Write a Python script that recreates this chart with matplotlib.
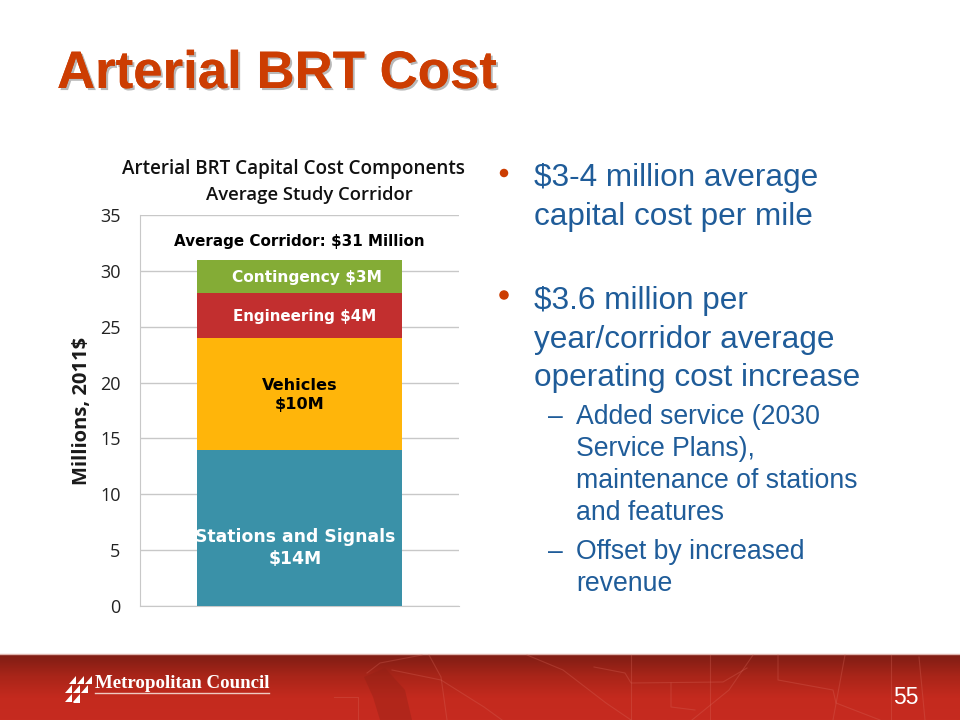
import numpy as np
import matplotlib
matplotlib.use("Agg")
import matplotlib.pyplot as plt
import matplotlib.patheffects as pe
from matplotlib.patches import Polygon
from matplotlib.colors import LinearSegmentedColormap

# ---- data ----
components = ["Stations and Signals", "Vehicles", "Engineering", "Contingency"]
values = [14, 10, 4, 3]
segment_labels = ["Stations and Signals\n$14M", "Vehicles\n$10M", "Engineering $4M", "Contingency $3M"]
yticks = [0, 5, 10, 15, 20, 25, 30, 35]

# ---- styles ----
colors = ["#3A91A8", "#FFB50A", "#C22F2F", "#84AC36"]
label_colors = ["white", "black", "white", "white"]
label_sizes = [12.4, 11.6, 10.9, 11.1]
label_x = [-0.012, 0.0, 0.015, 0.022]

W, H = 960, 720
fig = plt.figure(figsize=(9.6, 7.2), dpi=100, facecolor="white")

bg = fig.add_axes([0, 0, 1, 1], zorder=0)
bg.set_xlim(0, W); bg.set_ylim(H, 0); bg.axis("off")

# footer band
cmap = LinearSegmentedColormap.from_list("band", ["#7E1D14", "#A92519", "#C42A1E", "#C62B20"])
grad = np.linspace(0, 1, 64).reshape(-1, 1)
bg.imshow(grad, extent=[0, W, 720, 654], cmap=cmap, aspect="auto", zorder=1)
bg.set_xlim(0, W); bg.set_ylim(H, 0)
bg.plot([0, W], [654, 654], color="#E0B5AE", lw=1, zorder=2)
texture = [
    ([367, 380, 422], [673, 663, 655]),
    ([527, 563, 606, 631], [655, 670, 703, 720]),
    ([429, 441, 447], [655, 677, 720]),
    ([334, 358, 358], [697, 697, 720]),
    ([392, 441, 484, 502], [670, 680, 707, 720]),
    ([594, 625, 631, 723, 747], [667, 673, 683, 682, 668]),
    ([631, 631], [655, 720]), ([710, 710], [655, 720]),
    ([671, 671, 695], [683, 707, 710]),
    ([778, 778, 833, 836, 880], [655, 680, 690, 703, 720]),
    ([845, 833], [655, 720]), ([891, 891], [655, 720]), ([919, 925], [657, 720]),
    ([753, 729, 692], [655, 690, 720]),
]
for xs, ys in texture:
    bg.plot(xs, ys, color="#D9695C", lw=0.8, alpha=0.3, zorder=2)
bg.add_patch(Polygon([[364, 677], [373, 697], [380, 720], [412, 720], [405, 690], [385, 668]],
                     closed=True, fc="#8E2015", ec="none", alpha=0.35, zorder=2))

# logo
for (tx, ty) in [(65, 685), (73, 685), (81, 685), (69, 676), (77, 676), (85, 676), (65, 694), (73, 694)]:
    bg.add_patch(Polygon([[tx, ty + 8], [tx + 7, ty + 8], [tx + 7, ty]], closed=True, fc="white", ec="none", zorder=3))
bg.add_patch(Polygon([[73, 703], [80, 703], [80, 695]], closed=True, fc="white", ec="none", zorder=3))
bg.text(95, 683, "Metropolitan Council", family="Liberation Serif", weight="bold",
        fontsize=13.6, color="white", va="center", ha="left", zorder=3)
bg.plot([95, 269], [693, 693], color="#EFC9C2", lw=1, zorder=3)
bg.text(906, 698, "55", family="Liberation Sans", fontsize=16.5, color="white", ha="center", va="center", zorder=3)

# title with soft shadow
bg.text(57, 74, "Arterial BRT Cost", family="Liberation Sans", weight="bold", fontsize=38,
        color="#CC3D02", va="center", ha="left", zorder=3,
        path_effects=[pe.withSimplePatchShadow(offset=(1.5, -1.5), shadow_rgbFace="#8A8A8A", alpha=0.6), pe.Normal()])

# chart axes
ax = fig.add_axes([140 / W, 1 - 606 / H, (459 - 140) / W, (606 - 215) / H], zorder=2)
ax.patch.set_alpha(0)
ax.set_xlim(-0.5, 0.5)
ax.set_ylim(0, 35)
bar_w = (402 - 197) / (459 - 140)
bottom = 0
for v, c, lab, lc, fs, lx in zip(values, colors, segment_labels, label_colors, label_sizes, label_x):
    ax.bar(0, v, width=bar_w, bottom=bottom, color=c, zorder=3)
    y = bottom + v / 2 - 0.08
    if lab.startswith("Stations"):
        y = 5.2
    if lab.startswith("Vehicles"):
        y = 18.9
    ax.text(lx, y, lab, ha="center", va="center", color=lc, weight="bold",
            family="DejaVu Sans", fontsize=fs, linespacing=1.3, zorder=4)
    bottom += v
ax.text(0.0, 32.6, "Average Corridor: $31 Million", ha="center", va="center", weight="bold",
        family="DejaVu Sans", fontsize=10.9, color="black", zorder=4)
ax.set_yticks(yticks)
ax.set_xticks([])
ax.grid(axis="y", color="#C8C8C8", lw=1, zorder=1)
for s in ["top", "right"]:
    ax.spines[s].set_visible(False)
for s in ["left", "bottom"]:
    ax.spines[s].set_color("#C8C8C8")
ax.tick_params(axis="y", length=0, pad=14, labelsize=13, labelcolor="#222222")
for t in ax.get_yticklabels():
    t.set_family("Open Sans")
ax.set_ylabel("Millions, 2011$", family="Open Sans", weight="bold", fontsize=14.5, labelpad=6, color="#1a1a1a")

bg.text(293.5, 169, "Arterial BRT Capital Cost Components", family="Open Sans", weight="semibold",
        fontsize=13.6, ha="center", va="center", color="#111111")
bg.text(309.5, 195, "Average Study Corridor", family="Open Sans", weight="semibold",
        fontsize=13.3, ha="center", va="center", color="#111111")

# right text block
blue = "#1F5C99"
body = dict(family="Liberation Sans", color=blue, va="center", ha="left")
for y, s in [(178, "$3-4 million average"), (217, "capital cost per mile"),
             (301, "$3.6 million per"), (340, "year/corridor average"), (378, "operating cost increase")]:
    bg.text(534, y, s, fontsize=22.7, **body)
for y, s in [(417, "Added service (2030"), (449, "Service Plans),"), (481, "maintenance of stations"),
             (513, "and features"), (552, "Offset by increased"), (584, "revenue")]:
    bg.text(576, y, s, fontsize=19.2, **body)
for y in (417, 552):
    bg.text(548, y, "–", fontsize=19.2, **body)
bg.scatter([504, 504], [173, 295], s=[26, 34], color="#CC3D02", zorder=3)

fig.savefig("out.png", dpi=100)
